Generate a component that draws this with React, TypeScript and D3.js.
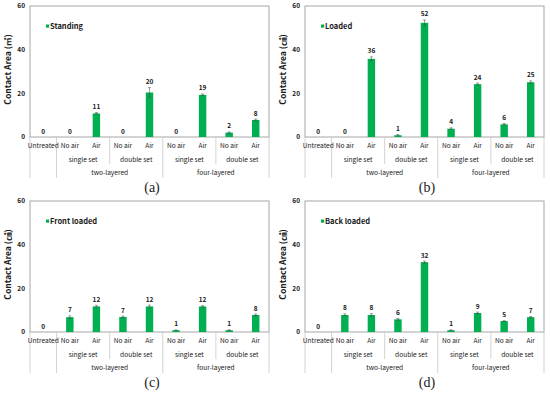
import { useEffect, useRef } from 'react';
import * as d3 from 'd3';

// categories on the lowest axis level
const categories = ['Untreated', 'No air', 'Air', 'No air', 'Air', 'No air', 'Air', 'No air', 'Air'];
const setGroups = ['single set', 'double set', 'single set', 'double set'];
const layerGroups = ['two-layered', 'four-layered'];
const yTicks = [0, 20, 40, 60];

// panel series (bar heights, error, labels shown)
const standing = [0, 0, 10.8, 0, 20.4, 0, 19.3, 2.0, 7.8];
const standingErr = [0, 0, 0.4, 0, 2.2, 0, 0.4, 0.3, 0.4];
const standingLabels = ['0', '0', '11', '0', '20', '0', '19', '2', '8'];

const loaded = [0, 0, 35.8, 0.8, 52.3, 3.8, 24.2, 5.8, 25.1];
const loadedErr = [0, 0, 0.9, 0.3, 1.3, 0.4, 0.5, 0.4, 0.6];
const loadedLabels = ['0', '0', '36', '1', '52', '4', '24', '6', '25'];

const frontLoaded = [0, 6.8, 11.7, 6.9, 11.7, 0.8, 11.7, 0.8, 7.8];
const frontLoadedErr = [0, 0.6, 0.5, 0.4, 0.6, 0.2, 0.4, 0.2, 0.4];
const frontLoadedLabels = ['0', '7', '12', '7', '12', '1', '12', '1', '8'];

const backLoaded = [0, 7.8, 7.8, 5.8, 32.0, 0.8, 8.7, 5.0, 6.8];
const backLoadedErr = [0, 0.5, 0.6, 0.4, 0.5, 0.2, 0.4, 0.2, 0.3];
const backLoadedLabels = ['0', '8', '8', '6', '32', '1', '9', '5', '7'];

const COLORS = {
    bar: '#00b050',
    frame: '#a6a6a6',
    table: '#c8c8c8',
    text: '#1a1a1a',
    err: '#444444',
};

const FONT = '"Noto Sans CJK KR", "Noto Sans", sans-serif';

const panels = [
    { dx: 0, dy: 0, values: standing, errs: standingErr, labels: standingLabels, name: 'Standing', unit: '㎡', tag: '(a)' },
    { dx: 275, dy: 0, values: loaded, errs: loadedErr, labels: loadedLabels, name: 'Loaded', unit: '㎠', tag: '(b)' },
    { dx: 0, dy: 195, values: frontLoaded, errs: frontLoadedErr, labels: frontLoadedLabels, name: 'Front loaded', unit: '㎠', tag: '(c)' },
    { dx: 275, dy: 195, values: backLoaded, errs: backLoadedErr, labels: backLoadedLabels, name: 'Back loaded', unit: '㎠', tag: '(d)' },
];

export default function App() {
    const svgRef = useRef<SVGSVGElement | null>(null);

    useEffect(() => {
        if (!svgRef.current) return;
        const svg = d3.select(svgRef.current);
        svg.selectAll('*').remove();

        const left = 30, right = 269, top = 6, bottom = 137;
        const x = d3.scaleBand<number>().domain(d3.range(categories.length)).range([left, right]).padding(0);
        const y = d3.scaleLinear().domain([0, 60]).range([bottom, top]);
        const bw = x.bandwidth();
        const barW = bw * 0.28;
        const edge = (i: number) => left + i * bw;

        for (const p of panels) {
            const g = svg.append('g').attr('transform', `translate(${p.dx},${p.dy})`);

            // plot frame
            g.append('rect')
                .attr('x', left).attr('y', top)
                .attr('width', right - left).attr('height', bottom - top)
                .attr('fill', 'none').attr('stroke', COLORS.frame).attr('stroke-width', 1);

            // y ticks
            g.selectAll('.yt').data(yTicks).join('text')
                .attr('x', 25).attr('y', d => y(d) + 2.3)
                .attr('text-anchor', 'end')
                .style('font-family', FONT).style('font-size', '6.5px').style('font-weight', 'bold')
                .style('fill', COLORS.text)
                .text(d => d);

            // y title
            g.append('text')
                .attr('transform', `translate(11,${(top + bottom) / 2 - 2}) rotate(-90)`)
                .attr('text-anchor', 'middle')
                .style('font-family', FONT).style('font-size', '8.5px').style('font-weight', 'bold')
                .style('fill', COLORS.text)
                .text(`Contact Area (${p.unit})`);

            // bars
            g.selectAll('.bar').data(p.values).join('rect')
                .attr('x', (_, i) => x(i)! + bw / 2 - barW / 2)
                .attr('y', d => y(d))
                .attr('width', barW)
                .attr('height', d => bottom - y(d))
                .attr('fill', COLORS.bar);

            // error bars
            p.values.forEach((v, i) => {
                const e = p.errs[i];
                if (e <= 0) return;
                const cx = x(i)! + bw / 2;
                g.append('line')
                    .attr('x1', cx).attr('x2', cx)
                    .attr('y1', y(v - e)).attr('y2', y(v + e))
                    .attr('stroke', COLORS.err).attr('stroke-width', 0.5);
                for (const yy of [v - e, v + e]) {
                    g.append('line')
                        .attr('x1', cx - 1.5).attr('x2', cx + 1.5)
                        .attr('y1', y(yy)).attr('y2', y(yy))
                        .attr('stroke', COLORS.err).attr('stroke-width', 0.5);
                }
            });

            // data labels
            g.selectAll('.dl').data(p.values).join('text')
                .attr('x', (_, i) => x(i)! + bw / 2)
                .attr('y', (d, i) => y(d + p.errs[i]) - 3.5)
                .attr('text-anchor', 'middle')
                .style('font-family', FONT).style('font-size', '6.5px').style('font-weight', 'bold')
                .style('fill', COLORS.text)
                .text((_, i) => p.labels[i]);

            // legend
            g.append('rect')
                .attr('x', 46).attr('y', 24.5).attr('width', 3.2).attr('height', 3.2)
                .attr('fill', COLORS.bar);
            g.append('text')
                .attr('x', 50).attr('y', 29)
                .style('font-family', FONT).style('font-size', '7.5px').style('font-weight', 'bold')
                .style('fill', COLORS.text)
                .text(p.name);

            // category table lines
            const row2 = 164, row3 = 178;
            const fullLines = [0, 1, 5, 9];
            const midLines = [3, 7];
            fullLines.forEach(i => {
                g.append('line')
                    .attr('x1', edge(i)).attr('x2', edge(i))
                    .attr('y1', bottom).attr('y2', row3)
                    .attr('stroke', COLORS.table).attr('stroke-width', 0.8);
            });
            midLines.forEach(i => {
                g.append('line')
                    .attr('x1', edge(i)).attr('x2', edge(i))
                    .attr('y1', bottom).attr('y2', row2)
                    .attr('stroke', COLORS.table).attr('stroke-width', 0.8);
            });

            const catStyle = (sel: any) => sel
                .attr('text-anchor', 'middle')
                .style('font-family', FONT).style('font-size', '6.6px')
                .style('fill', COLORS.text);

            g.selectAll('.cat').data(categories).join('text')
                .attr('x', (_, i) => x(i)! + bw / 2)
                .attr('y', 148)
                .call(catStyle)
                .text(d => d);

            g.selectAll('.set').data(setGroups).join('text')
                .attr('x', (_, i) => edge(1 + i * 2) + bw)
                .attr('y', 161.5)
                .call(catStyle)
                .text(d => d);

            g.selectAll('.layer').data(layerGroups).join('text')
                .attr('x', (_, i) => edge(1 + i * 4) + bw * 2)
                .attr('y', 175)
                .call(catStyle)
                .text(d => d);

            // panel tag
            g.append('text')
                .attr('x', 152).attr('y', 192)
                .attr('text-anchor', 'middle')
                .style('font-family', '"Liberation Serif", "DejaVu Serif", serif')
                .style('font-size', '14px')
                .style('fill', COLORS.text)
                .text(p.tag);
        }
    }, []);

    return (
        <div style={{ position: 'fixed', left: 0, top: 0 }}>
            <svg ref={svgRef} width={550} height={393} style={{ display: 'block', background: '#fff' }} />
        </div>
    );
}
